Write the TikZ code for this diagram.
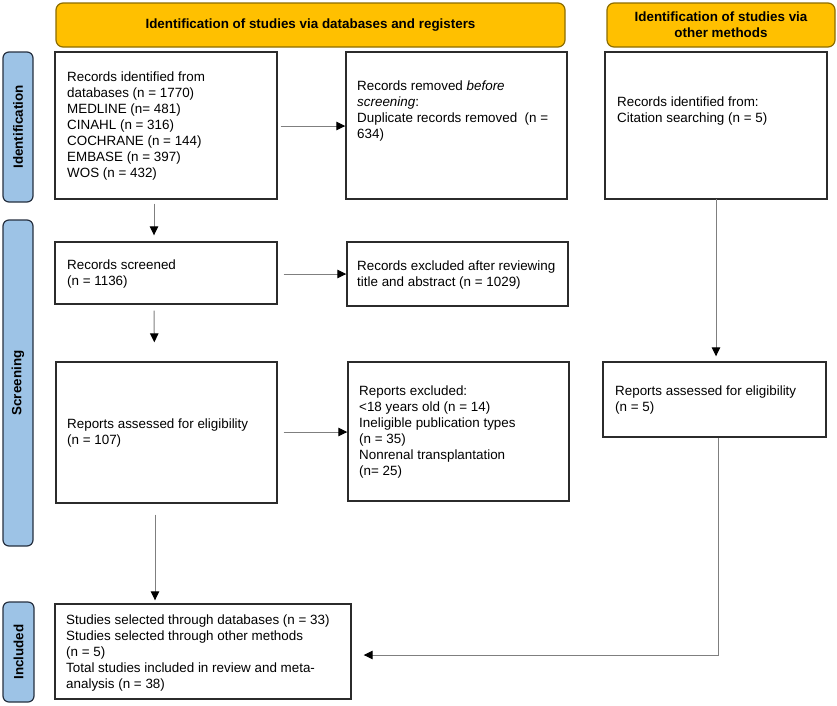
\documentclass[tikz,border=0pt]{standalone}
\usepackage{fontspec}
\setmainfont{Liberation Sans}
\usetikzlibrary{arrows.meta}
\definecolor{gold}{HTML}{FFC000}
\definecolor{goldline}{HTML}{8C6D00}
\definecolor{sideblue}{HTML}{9DC3E6}
\definecolor{sideline}{HTML}{263040}
\definecolor{boxline}{HTML}{2B2B2B}
\definecolor{linkgray}{HTML}{7F7F7F}
\tikzset{
  every node/.style={font=\fontsize{13.4}{16}\selectfont},
  box/.style={draw=boxline, line width=1.4pt, fill=white, inner sep=0pt},
  banner/.style={draw=goldline, line width=1.2pt, fill=gold, rounded corners=7pt, inner sep=0pt, align=center, font=\fontsize{13.4}{16}\selectfont\bfseries},
  side/.style={draw=sideline, line width=1.2pt, fill=sideblue, rounded corners=6pt, inner sep=0pt, font=\fontsize{13.4}{16}\selectfont\bfseries},
  txt/.style={anchor=north west, inner sep=0pt, align=left},
  arr/.style={draw=linkgray, line width=1pt, -{Triangle[length=9pt,width=8.5pt,color=black]}},
}
\begin{document}
\begin{tikzpicture}[x=1pt,y=-1pt]
\useasboundingbox (0,0) rectangle (837,705);
% banners
\node[banner, minimum width=509, minimum height=44] (h1) at (310.5,25) {Identification of studies via databases and registers};
\node[banner, minimum width=228, minimum height=44] (h2) at (721,25) {Identification of studies via\\other methods};
% side labels
\node[side, minimum width=150, minimum height=30, rotate=90] (s1) at (18,127) {Identification};
\node[side, minimum width=326, minimum height=30, rotate=90] (s2) at (18,383) {Screening};
\node[side, minimum width=100, minimum height=31, rotate=90] (s3) at (18.5,652) {Included};
% boxes
\node[box, minimum width=222, minimum height=147] (b1) at (166,125.5) {};
\node[box, minimum width=221, minimum height=147] (b2) at (456.5,125.5) {};
\node[box, minimum width=222, minimum height=147] (b3) at (716,125.5) {};
\node[box, minimum width=222, minimum height=62] (b4) at (166,273) {};
\node[box, minimum width=221, minimum height=64] (b5) at (457.5,274) {};
\node[box, minimum width=221, minimum height=141] (b6) at (166.5,432.5) {};
\node[box, minimum width=221, minimum height=139] (b7) at (458.5,431.5) {};
\node[box, minimum width=223, minimum height=75] (b8) at (714.5,399.5) {};
\node[box, minimum width=296, minimum height=95] (b9) at (203,651.5) {};
% texts
\node[txt] (t1) at (67,72) {Records identified from\\databases (n = 1770)\\MEDLINE (n= 481)\\CINAHL (n = 316)\\COCHRANE (n = 144)\\EMBASE (n = 397)\\WOS (n = 432)};
\node[txt] (t2) at (357,81) {Records removed \textit{before}\\\textit{screening}:\\Duplicate records removed\ \ (n =\\634)};
\node[txt] (t3) at (617,97) {Records identified from:\\Citation searching (n = 5)};
\node[txt] (t4) at (67,260) {Records screened\\(n = 1136)};
\node[txt] (t5) at (357,261) {Records excluded after reviewing\\title and abstract (n = 1029)};
\node[txt] (t6) at (67,419) {Reports assessed for eligibility\\(n = 107)};
\node[txt] (t7) at (359,386) {Reports excluded:\\<18 years old (n = 14)\\Ineligible publication types\\(n = 35)\\Nonrenal transplantation\\(n= 25)};
\node[txt] (t8) at (615,386) {Reports assessed for eligibility\\(n = 5)};
\node[txt] (t9) at (66,615) {Studies selected through databases (n = 33)\\Studies selected through other methods\\(n = 5)\\Total studies included in review and meta-\\analysis (n = 38)};
% connectors
\draw[arr, shorten <=3pt] (b1.east |- 0,126) -- (b2.west |- 0,126);
\draw[arr, shorten <=4pt, shorten >=6pt] ([xshift=-12pt]b1.south) -- ([xshift=-12pt]b4.north);
\draw[arr, shorten <=6pt] (b4.east |- 0,274) -- (b5.west |- 0,274);
\draw[arr, shorten <=6pt, shorten >=19pt] ([xshift=-12pt]b4.south) -- ([xshift=-12pt]b6.north);
\draw[arr, shorten <=6pt] (b6.east |- 0,432) -- (b7.west |- 0,432);
\draw[arr, shorten >=5pt] (b3.south |- 0,199) -- (b3.south |- b8.north);
\draw[arr, shorten <=11pt, shorten >=3pt] ([xshift=-11.5pt]b6.south) -- ([xshift=-11.5pt]b6.south |- b9.north);
\draw[arr, shorten >=12pt] ([xshift=3.5pt]b8.south) |- (b9.east |- 0,655);
\end{tikzpicture}
\end{document}
